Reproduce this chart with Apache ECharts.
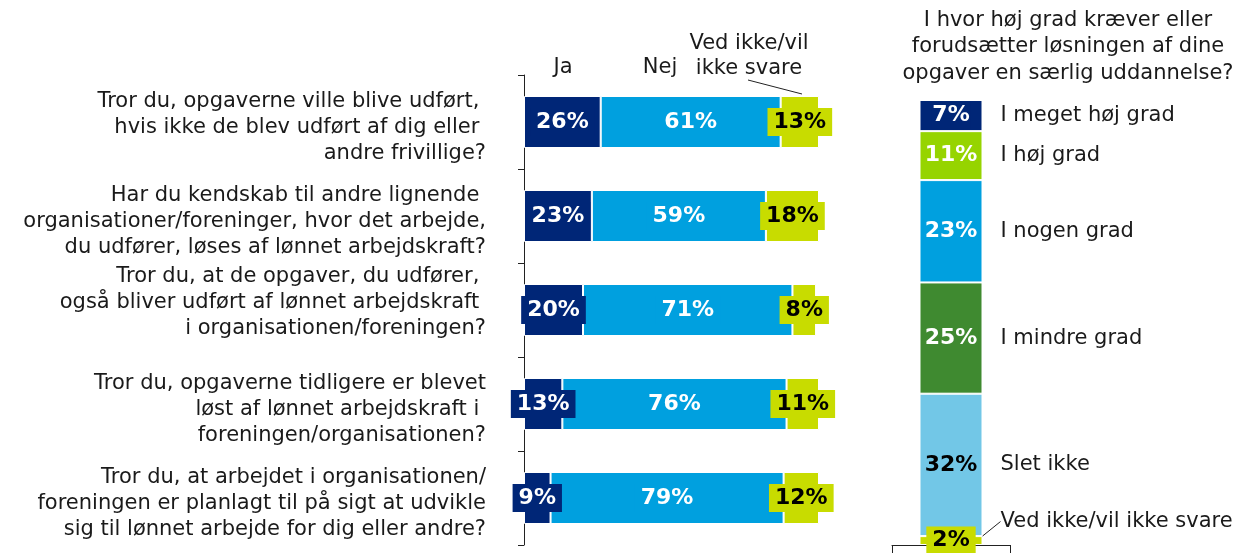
<!DOCTYPE html>
<html>
<head>
<meta charset="utf-8">
<script src="https://cdn.jsdelivr.net/npm/echarts@6/dist/echarts.min.js"></script>
<style>
  html, body { margin: 0; padding: 0; background: #fff; }
  #chart { width: 1251px; height: 553px; }
</style>
</head>
<body>
<div id="chart"></div>
<script>
// left chart: yes / no / don't know per question
const questions = [
  "Tror du, opgaverne ville blive udført, \nhvis ikke de blev udført af dig eller \nandre frivillige?",
  "Har du kendskab til andre lignende \norganisationer/foreninger, hvor det arbejde,\ndu udfører, løses af lønnet arbejdskraft?",
  "Tror du, at de opgaver, du udfører, \nogså bliver udført af lønnet arbejdskraft \ni organisationen/foreningen?\n",
  "Tror du, opgaverne tidligere er blevet\nløst af lønnet arbejdskraft i \nforeningen/organisationen?",
  "Tror du, at arbejdet i organisationen/\nforeningen er planlagt til på sigt at udvikle\nsig til lønnet arbejde for dig eller andre?"
];
const answerNames = ["Ja", "Nej", "Ved ikke/vil ikke svare"];
const jaValues = [26, 23, 20, 13, 9];
const nejValues = [61, 59, 71, 76, 79];
const vedIkkeValues = [13, 18, 8, 11, 12];

// right chart: required education
const degreeNames = ["I meget høj grad", "I høj grad", "I nogen grad", "I mindre grad", "Slet ikke", "Ved ikke/vil ikke svare"];
const degreeValues = [7, 11, 23, 25, 32, 2];

const FONT = "DejaVu Sans";
const NAVY = "#002677";
const BLUE = "#00a0df";
const LIME = "#c8dc00";
const degreeColors = [NAVY, "#96d400", BLUE, "#3f8a30", "#72c7e7", LIME];
const degreeText = ["#fff", "#fff", "#fff", "#fff", "#000", "#000"];

const chart = echarts.init(document.getElementById("chart"));

function answerSeries(name, data, color, textColor) {
  return {
    name: name,
    type: "bar",
    stack: "answers",
    xAxisIndex: 0,
    yAxisIndex: 0,
    barWidth: 52,
    data: data,
    itemStyle: { color: color, borderColor: "#fff", borderWidth: 1 },
    label: {
      show: true,
      position: "inside",
      formatter: "{c}%",
      color: textColor,
      fontFamily: FONT,
      fontWeight: "bold",
      fontSize: 22,
      backgroundColor: color,
      padding: [3, 6]
    }
  };
}

const series = [
  answerSeries(answerNames[0], jaValues, NAVY, "#fff"),
  answerSeries(answerNames[1], nejValues, BLUE, "#fff"),
  answerSeries(answerNames[2], vedIkkeValues, LIME, "#000")
];

degreeNames.forEach(function (name, i) {
  const arr = [degreeValues[i]];
  const last = i === degreeNames.length - 1;
  series.push({
    name: name,
    type: "bar",
    stack: "degree",
    xAxisIndex: 1,
    yAxisIndex: 1,
    barWidth: 63,
    data: arr,
    itemStyle: { color: degreeColors[i], borderColor: "#fff", borderWidth: 1 },
    label: {
      show: true,
      position: "inside",
      formatter: "{c}%",
      color: degreeText[i],
      fontFamily: FONT,
      fontWeight: "bold",
      fontSize: 22,
      backgroundColor: degreeColors[i],
      padding: last ? [3, 6] : [2, 1]
    }
  });
  // invisible twin that carries the category name to the right
  series.push({
    name: name + " ",
    type: "bar",
    stack: "degreeNames",
    xAxisIndex: 1,
    yAxisIndex: 1,
    barWidth: 63,
    barGap: "-100%",
    data: arr,
    itemStyle: { color: "rgba(0,0,0,0)" },
    silent: true,
    z: 1,
    label: {
      show: true,
      position: "right",
      distance: 18,
      formatter: name,
      color: "#1a1a1a",
      fontFamily: FONT,
      fontSize: 21
    },
    labelLayout: last ? { dy: -19 } : null,
    labelLine: last ? { show: true, lineStyle: { color: "#222", width: 1 } } : { show: false }
  });
});

const headFont = "21px '" + FONT + "'";

chart.setOption({
  animation: false,
  textStyle: { fontFamily: FONT },
  title: {
    text: "I hvor høj grad kræver eller\nforudsætter løsningen af dine\nopgaver en særlig uddannelse?",
    left: 1063,
    top: 2,
    textAlign: "center",
    textStyle: { fontFamily: FONT, fontSize: 21, fontWeight: "normal", color: "#1a1a1a", lineHeight: 26.5 }
  },
  grid: [
    { left: 524, top: 75, width: 295, height: 470 },
    { left: 892, top: 100, width: 118, height: 445 }
  ],
  xAxis: [
    { type: "value", gridIndex: 0, min: 0, max: 100, show: false },
    {
      type: "category", gridIndex: 1, data: [""],
      axisLine: { show: true, onZero: false, lineStyle: { color: "#222" } },
      axisTick: { show: true, length: 8, lineStyle: { color: "#222" } },
      axisLabel: { show: false }
    }
  ],
  yAxis: [
    {
      type: "category", gridIndex: 0, inverse: true, data: questions,
      axisLine: { show: true, lineStyle: { color: "#222" } },
      axisTick: { show: true, length: 6, lineStyle: { color: "#222" } },
      axisLabel: {
        margin: 38, color: "#1a1a1a", fontFamily: FONT, fontSize: 21,
        lineHeight: 26, align: "right",
        // small empty first line nudges the block down a little
        formatter: function (v) { return "{gap| }\n" + v; },
        rich: { gap: { fontSize: 4, lineHeight: 12 } }
      }
    },
    { type: "value", gridIndex: 1, min: 0, max: 100, inverse: true, show: false }
  ],
  graphic: [
    { type: "text", x: 563, y: 68, style: { text: answerNames[0], textAlign: "center", textVerticalAlign: "middle", font: headFont, fill: "#1a1a1a" } },
    { type: "text", x: 660, y: 68, style: { text: answerNames[1], textAlign: "center", textVerticalAlign: "middle", font: headFont, fill: "#1a1a1a" } },
    { type: "text", x: 749, y: 56, style: { text: "Ved ikke/vil\nikke svare", lineHeight: 25, textAlign: "center", textVerticalAlign: "middle", font: headFont, fill: "#1a1a1a" } },
    { type: "line", shape: { x1: 748, y1: 80, x2: 802, y2: 94 }, style: { stroke: "#222", lineWidth: 1 } }
  ],
  series: series
});
</script>
</body>
</html>
